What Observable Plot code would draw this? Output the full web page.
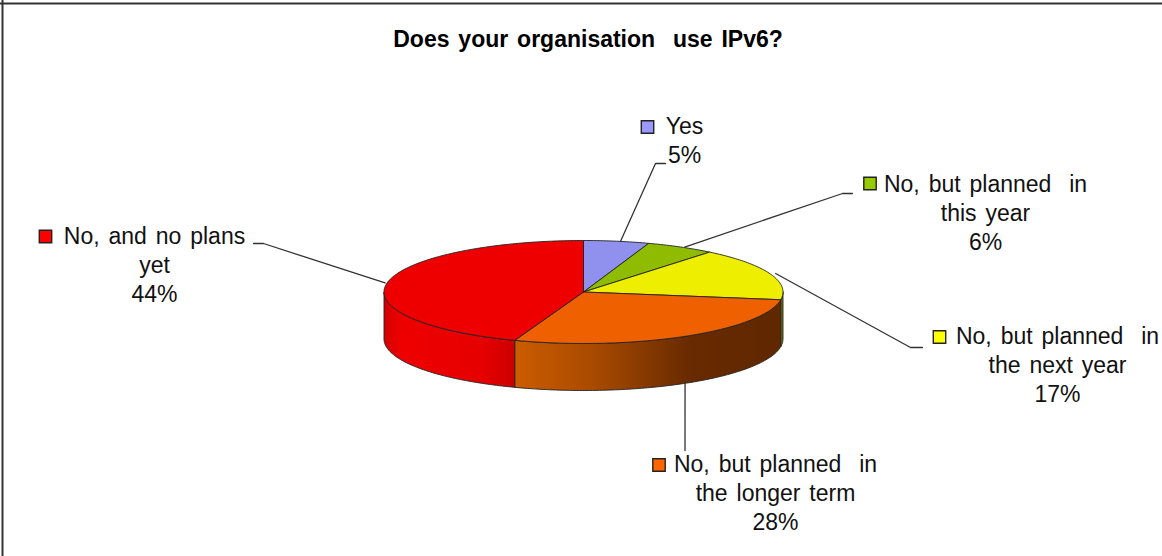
<!DOCTYPE html>
<html>
<head>
<meta charset="utf-8">
<style>html,body{margin:0;padding:0;background:#fff;overflow:hidden}svg{display:block}</style>
<script src="https://cdn.jsdelivr.net/npm/d3@7"></script>
<script src="https://cdn.jsdelivr.net/npm/@observablehq/plot@0.6"></script>
</head>
<body>
<div id="chart"></div>
<script>
const title = "Does your organisation  use IPv6?";
const categories = ["Yes", "No, but planned  in\nthis year", "No, but planned  in\nthe next year", "No, but planned  in\nthe longer term", "No, and no plans\nyet"];
const shares = [5.3, 5.6, 16.5, 28.2, 44.4];
const keyColors = ["#9999ff", "#99cc00", "#ffff00", "#ff6600", "#ff0000"];
const topColors = ["#9090ee", "#8fbb00", "#eeee00", "#ee6000", "#ee0000"];
const sideFills = ["#5a5a9a", "url(#side-green)", "url(#side-yellow)", "url(#side-orange)", "url(#side-red)"];

// Layout of the drawing (pixels of the 1162x556 picture)
const W = 1162, H = 556;
const pie = {cx: 583, cy: 291.5, rx: 199.5, ry: 51.5, depth: 47};
const labelPos = [[684, 139], [985, 211.5], [1057, 363], [775, 491], [154, 263]];
const keyPos = [[647, 126.5], [869.5, 183], [939, 336.5], [658.5, 464.5], [45, 236]];
const elbows = [
  [[655, 163], [665, 163]],
  [[842, 193], [852, 193]],
  [[910, 347], [922, 347]],
  [[684.5, 450]],
  [[263, 243], [253, 243]]
];
const tipShift = [4, 4, 6, 0, -2];

const total = d3.sum(shares);
const cum = d3.cumsum(shares);
const angle = (v) => (v / total) * 2 * Math.PI;
const px = (a, dy = 0) => ({x: pie.cx + pie.rx * Math.sin(a), y: pie.cy - pie.ry * Math.cos(a) + dy});

function arc(a0, a1, dy = 0) {
  const n = Math.max(2, Math.ceil((a1 - a0) * 60));
  return d3.range(n + 1).map((i) => px(a0 + ((a1 - a0) * i) / n, dy));
}

const slices = shares.map((v, i) => {
  const a0 = angle(i ? cum[i - 1] : 0), a1 = angle(cum[i]);
  const c = {x: pie.cx, y: pie.cy};
  const top = [c, ...arc(a0, a1), c];
  const s0 = Math.max(a0, Math.PI / 2), s1 = Math.min(a1, 1.5 * Math.PI);
  let side = null;
  if (s1 > s0) {
    const up = arc(s0, s1), down = arc(s0, s1, pie.depth).reverse();
    side = [...up, ...down, up[0]];
  }
  const mid = (a0 + a1) / 2;
  const tip = px(mid, i === 3 ? pie.depth : 0);
  tip.x += tipShift[i];
  const leader = [tip, ...elbows[i].map(([x, y]) => ({x, y}))];
  return {top, side, leader};
});

const labels = categories.map((c, i) => ({
  text: `${c}\n${Math.round(shares[i])}%`, x: labelPos[i][0], y: labelPos[i][1]
}));
const keys = keyPos.map(([x, y], i) => ({x, y, color: keyColors[i]}));
const frameColor = "#333";

const svg = Plot.plot({
  width: W, height: H,
  margin: 0,
  x: {domain: [0, W], range: [0, W], axis: null},
  y: {domain: [0, H], range: [0, H], axis: null},
  style: {fontFamily: "'Liberation Sans', Arial, sans-serif", background: "#fff", wordSpacing: "2.5px"},
  marks: [
    Plot.ruleX([2], {stroke: frameColor, strokeWidth: 2}),
    Plot.ruleY([3], {stroke: frameColor, strokeWidth: 2}),
    ...slices.filter((s) => s.side).map((s) =>
      Plot.line(s.side, {x: "x", y: "y", fill: sideFills[slices.indexOf(s)], stroke: "#222", strokeWidth: 0.9, curve: "linear"})),
    ...slices.map((s, i) =>
      Plot.line(s.top, {x: "x", y: "y", fill: topColors[i], stroke: "#222", strokeWidth: 0.9, curve: "linear"})),
    ...slices.map((s) =>
      Plot.line(s.leader, {x: "x", y: "y", stroke: "#333", strokeWidth: 1.3, curve: "linear"})),
    Plot.dot(keys, {x: "x", y: "y", symbol: "square", r: 7, fill: (d) => d.color, stroke: "#222", strokeWidth: 1.4}),
    Plot.text(labels, {x: "x", y: "y", text: "text", fontSize: 23, lineHeight: 29 / 23, fill: "#111", textAnchor: "middle", lineAnchor: "middle"}),
    Plot.text([title], {x: [587.5], y: [39], text: (d) => d, fontSize: 23, fontWeight: "bold", fill: "#000", textAnchor: "middle", lineAnchor: "middle", wordSpacing: "0px"})
  ]
});

const defs = d3.select(svg).insert("defs", ":first-child");
const grads = {
  "side-red": [[0, "#d40000"], [0.14, "#ee0000"], [0.75, "#e60000"], [1, "#cc0000"]],
  "side-orange": [[0, "#cc5c00"], [0.3, "#a84a00"], [0.66, "#682a00"], [1, "#602800"]],
  "side-yellow": [[0, "#8a8a00"], [1, "#666600"]],
  "side-green": [[0, "#556600"], [1, "#556600"]]
};
for (const [id, stops] of Object.entries(grads)) {
  const g = defs.append("linearGradient").attr("id", id).attr("x1", 0).attr("x2", 1).attr("y1", 0).attr("y2", 0);
  for (const [o, c] of stops) g.append("stop").attr("offset", o).attr("stop-color", c);
}
document.getElementById("chart").appendChild(svg);
</script>
</body>
</html>
